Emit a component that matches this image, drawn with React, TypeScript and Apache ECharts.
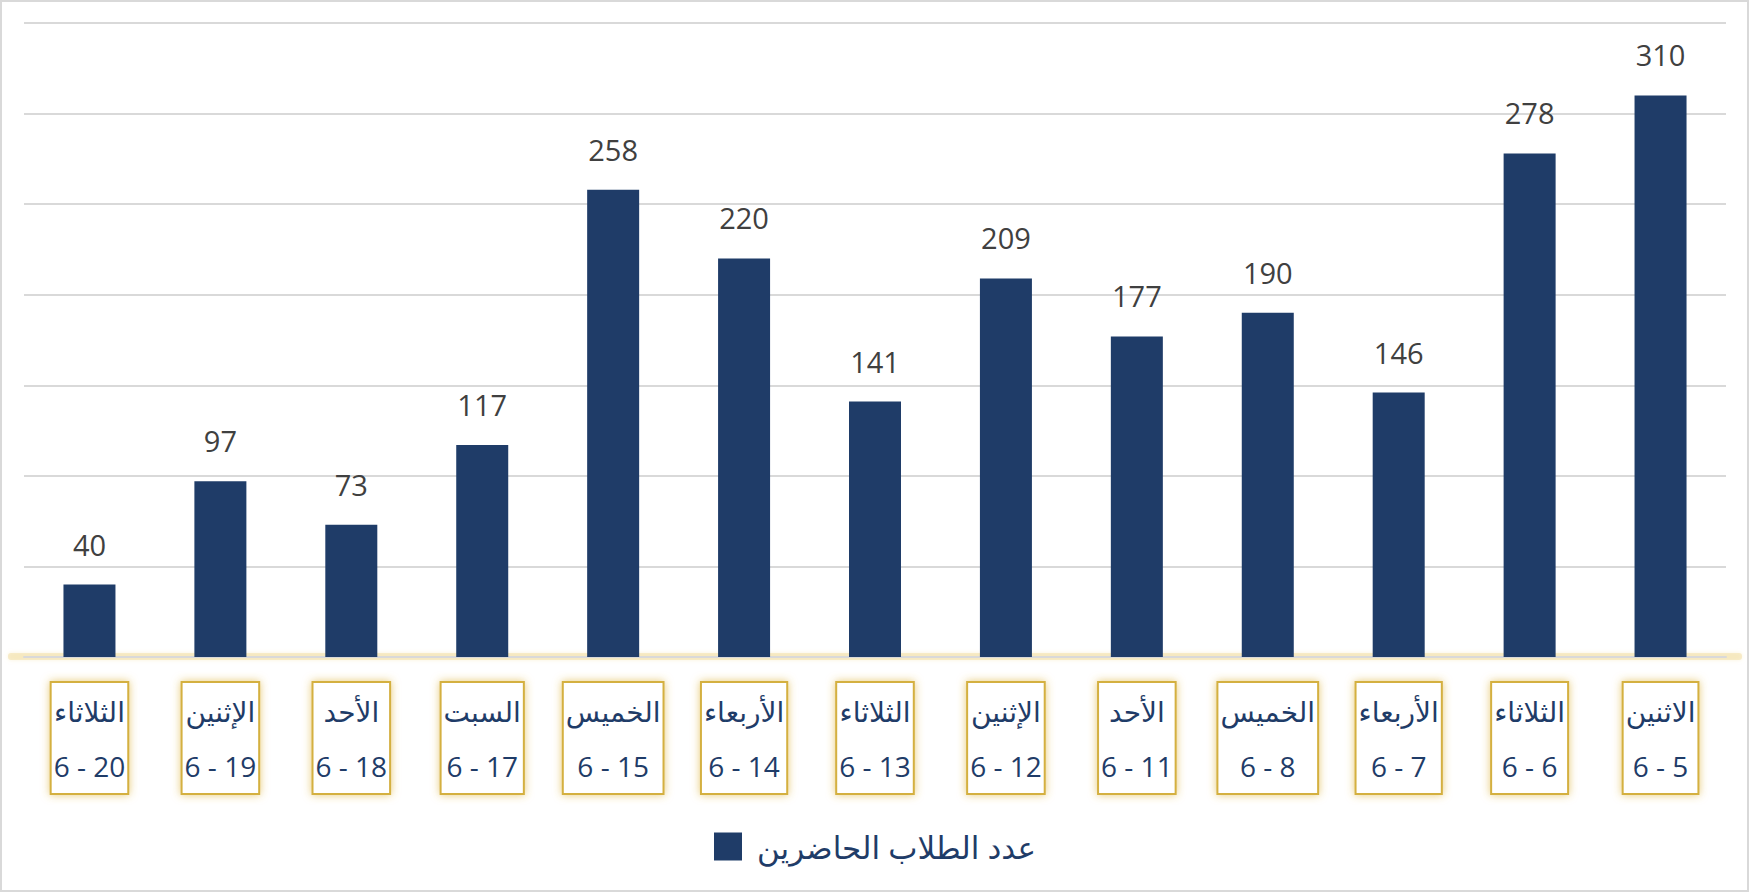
import React, { useEffect, useRef } from "react";
import * as echarts from "echarts";

const days = ["الثلاثاء", "الإثنين", "الأحد", "السبت", "الخميس", "الأربعاء", "الثلاثاء", "الإثنين", "الأحد", "الخميس", "الأربعاء", "الثلاثاء", "الاثنين"];
const dates = ["6 - 20", "6 - 19", "6 - 18", "6 - 17", "6 - 15", "6 - 14", "6 - 13", "6 - 12", "6 - 11", "6 - 8", "6 - 7", "6 - 6", "6 - 5"];
const attendance = [40, 97, 73, 117, 258, 220, 141, 209, 177, 190, 146, 278, 310];
const seriesName = "عدد الطلاب الحاضرين";

const FONT = "'Open Sans', 'DejaVu Sans', sans-serif";
const NAVY = "#1f3c68";

export default function App() {
  const ref = useRef<HTMLDivElement>(null);
  useEffect(() => {
    if (!ref.current) return;
    const chart = echarts.init(ref.current, null, { renderer: "svg" });
    const categories = days.map((d, i) => d + "\n" + dates[i]);
    chart.setOption({
      animation: false,
      backgroundColor: "#ffffff",
      textStyle: { fontFamily: FONT },
      grid: { left: 24, right: 24, top: 23, bottom: 236 },
      legend: {
        data: [seriesName],
        top: 826,
        left: "center",
        itemWidth: 28,
        itemHeight: 28,
        icon: "rect",
        textStyle: { fontSize: 31, color: NAVY, fontFamily: FONT, padding: [0, 0, 0, 10] },
      },
      graphic: [
        {
          type: "rect",
          shape: { x: 1, y: 1, width: 1747, height: 890 },
          style: { fill: "none", stroke: "#d9d9d9", lineWidth: 2 },
          silent: true,
        },
        {
          type: "rect",
          z: -1,
          shape: { x: 8, y: 653, width: 1734, height: 7, r: 3 },
          style: {
            fill: "rgba(242,222,160,0.5)",
            shadowColor: "rgba(240,215,140,0.6)",
            shadowBlur: 4,
          },
          silent: true,
        },
      ],
      xAxis: {
        type: "category",
        data: categories,
        axisTick: { show: false },
        axisLine: {
          lineStyle: {
            color: "#d9d9d9",
            width: 2,
          },
        },
        axisLabel: {
          interval: 0,
          margin: 26,
          color: NAVY,
          fontSize: 28,
          fontFamily: FONT,
          lineHeight: 55,
          backgroundColor: "#ffffff",
          borderColor: "#d4b040",
          borderWidth: 2,
          shadowColor: "rgba(222,180,60,0.7)",
          shadowBlur: 8,
          padding: [0, 2, 0, 2],
        },
      },
      yAxis: {
        type: "value",
        min: 0,
        max: 350,
        interval: 50,
        axisLabel: { show: false },
        axisLine: { show: false },
        axisTick: { show: false },
        splitLine: { lineStyle: { color: "#d9d9d9", width: 2 } },
      },
      series: [
        {
          name: seriesName,
          type: "bar",
          data: attendance,
          barWidth: 52,
          itemStyle: { color: NAVY },
          label: {
            show: true,
            position: "top",
            distance: 26,
            fontSize: 29,
            color: "#404040",
            fontFamily: FONT,
          },
        },
      ],
    });
    return () => chart.dispose();
  }, []);
  return (
    <div
      ref={ref}
      style={{ position: "absolute", left: 0, top: 0, width: 1750, height: 893 }}
    />
  );
}
